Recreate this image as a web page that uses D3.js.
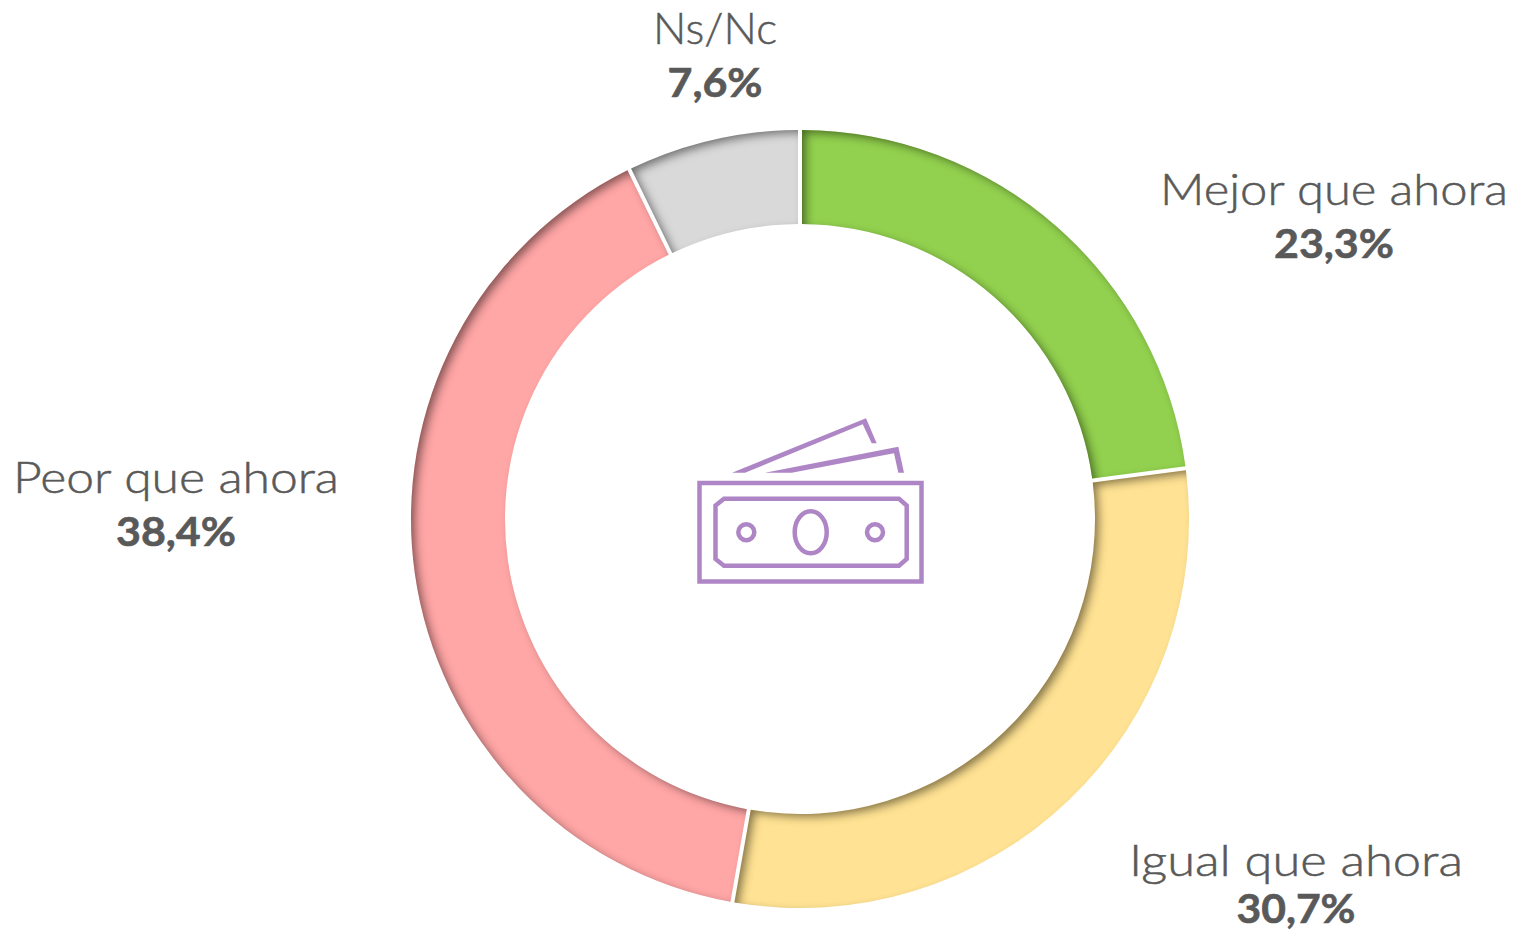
<!DOCTYPE html>
<meta charset="utf-8">
<html>
  <style>
    body, html{ margin: 0; background: #fff; }
    text{ fill: #595959; stroke: #595959; text-anchor: middle; font-family: Lato, sans-serif; }
    .name{ font-size: 43px; font-weight: 300; stroke-width: 0.5; }
    .pct{ font-size: 41px; font-weight: 700; stroke-width: 0.6; }
    .icon path, .icon ellipse, .icon circle, .icon rect{ fill: none; stroke: #ae86c6; stroke-width: 4.5; }
    .icon .note{ fill: #ae86c6; stroke: none; }
  </style>
  <body>
    <svg id="chart"></svg>
    <script src="https://cdn.jsdelivr.net/npm/d3@7"></script>
    <script>
var categories = ['Mejor que ahora', 'Igual que ahora', 'Peor que ahora', 'Ns/Nc']
  , percentLabels = ['23,3%', '30,7%', '38,4%', '7,6%']
  // slice sizes as measured on the picture, they differ a bit from the printed labels
  , sliceValues = [22.9, 29.9, 40.1, 7.1]
  , colors = ['#92d050', '#ffe293', '#ffa6a6', '#d9d9d9']

var w = 1514, h = 931
  , cx = 800, cy = 519
  , svg = d3.select('#chart').attr('width', w).attr('height', h).style('display', 'block')
  , translate = function(x,y){ return 'translate(' + x + ',' + y + ')' }

// inner shadow, falls from the upper left like the original
var f = svg.append('defs').append('filter').attr('id', 'inset')
  .attr('x', '-15%').attr('y', '-15%').attr('width', '130%').attr('height', '130%')
f.append('feOffset').attr('in', 'SourceAlpha').attr('dx', 5).attr('dy', 4).attr('result', 'off')
f.append('feFlood').attr('flood-color', '#000').attr('flood-opacity', 1).attr('result', 'black')
f.append('feComposite').attr('in', 'black').attr('in2', 'off').attr('operator', 'out').attr('result', 'outside')
f.append('feGaussianBlur').attr('in', 'outside').attr('stdDeviation', 4).attr('result', 'blur')
f.append('feComponentTransfer').attr('in', 'blur').attr('result', 'soft')
  .append('feFuncA').attr('type', 'linear').attr('slope', 0.75)
f.append('feComposite').attr('in', 'soft').attr('in2', 'SourceAlpha').attr('operator', 'in').attr('result', 'inner')
var merge = f.append('feMerge')
merge.append('feMergeNode').attr('in', 'SourceGraphic')
merge.append('feMergeNode').attr('in', 'inner')

var pie = d3.pie().sort(null).padAngle(4 / 342)
  , arc = d3.arc().innerRadius(295).outerRadius(389).padRadius(342)

svg.append('g').attr('transform', translate(cx, cy))
  .selectAll('path').data(pie(sliceValues)).enter().append('path')
  .attr('class', 'slice')
  .attr('d', arc)
  .attr('fill', function(d, i){ return colors[i] })
  .attr('filter', 'url(#inset)')

// label centres and the text widths measured on the picture
var labelX = [1334, 1296, 176, 715]
  , nameY = [205, 876, 493, 44]
  , pctY = [258, 923, 546, 97]
  , nameW = [348, 334, 326, 124]
  , pctW = [120, 119, 120, 95]

var labels = svg.selectAll('g.label').data(categories).enter().append('g').attr('class', 'label')
labels.append('text').attr('class', 'name')
  .attr('x', function(d, i){ return labelX[i] })
  .attr('y', function(d, i){ return nameY[i] })
  .attr('textLength', function(d, i){ return nameW[i] })
  .attr('lengthAdjust', 'spacingAndGlyphs')
  .text(function(d){ return d })
labels.append('text').attr('class', 'pct')
  .attr('x', function(d, i){ return labelX[i] })
  .attr('y', function(d, i){ return pctY[i] })
  .attr('textLength', function(d, i){ return pctW[i] })
  .attr('lengthAdjust', 'spacingAndGlyphs')
  .text(function(d, i){ return percentLabels[i] })

// the banknote icon in the hole
var icon = svg.append('g').attr('class', 'icon')
icon.append('path').attr('class', 'note').attr('d', 'M732,472.7L866,418.3L876.7,443.3H871.7L862.7,424.3L745,472.7Z')
icon.append('path').attr('class', 'note').attr('d', 'M765,472.7L898.3,446.7L904,472.7H898.3L894,453.3L791.7,472.7Z')
icon.append('rect').attr('x', 699.5).attr('y', 483).attr('width', 222).attr('height', 98.5)
icon.append('path').attr('d', 'M724,498.7H899L906.7,505.5V559L899,565.7H724L715.5,559V505.5Z')
icon.append('ellipse').attr('cx', 810.7).attr('cy', 532.3).attr('rx', 16).attr('ry', 21)
icon.append('circle').attr('cx', 746.3).attr('cy', 532.3).attr('r', 8)
icon.append('circle').attr('cx', 875).attr('cy', 532.3).attr('r', 8)
    </script>
  </body>
</html>
